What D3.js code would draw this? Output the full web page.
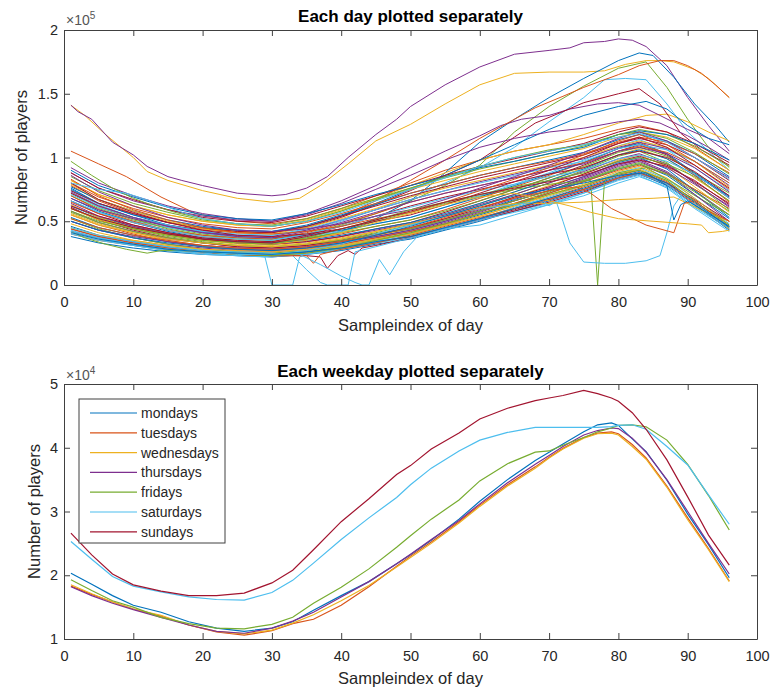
<!DOCTYPE html>
<html>
<head>
<meta charset="utf-8">
<script src="https://cdn.jsdelivr.net/npm/d3@7"></script>
<style>
  body { margin: 0; background: #fff; }
  text { font-family: "Liberation Sans", Arial, Helvetica, sans-serif; fill: #262626; }
</style>
</head>
<body>
<svg id="fig" width="772" height="690"></svg>
<script>
// ---- data (players in units of 1e5 for the day plot, 1e4 for the weekday plot) ----
const sampleTicks = [0, 10, 20, 30, 40, 50, 60, 70, 80, 90, 100];
const dayTicks = [0, 0.5, 1, 1.5, 2];
const weekTicks = [1, 2, 3, 4, 5];

// sample indices at which the ordinary days were read
const dayGrid = [1, 5, 10, 15, 20, 25, 30, 35, 40, 45, 50, 55, 60, 65, 70, 75, 80, 83, 87, 91, 96];

// ordinary days (x1e5), one row per day
const bandDays = [
  [.38,.33,.29,.26,.24,.23,.22,.24,.27,.32,.36,.43,.50,.58,.66,.74,.83,.87,.78,.63,.43],
  [.40,.35,.31,.27,.25,.24,.23,.25,.28,.33,.38,.44,.52,.60,.68,.77,.86,.90,.81,.66,.46],
  [.42,.36,.31,.27,.24,.23,.22,.24,.28,.33,.37,.44,.52,.61,.69,.78,.88,.92,.83,.68,.48],
  [.44,.38,.33,.29,.26,.25,.24,.26,.29,.34,.38,.45,.52,.59,.67,.75,.84,.88,.80,.67,.50],
  [.46,.39,.34,.30,.27,.25,.24,.26,.30,.35,.40,.47,.55,.63,.72,.81,.91,.95,.86,.71,.52],
  [.48,.41,.35,.31,.28,.26,.25,.27,.30,.35,.40,.47,.54,.62,.71,.79,.89,.93,.84,.68,.47],
  [.50,.43,.37,.32,.29,.27,.26,.28,.32,.37,.42,.49,.57,.66,.74,.84,.94,.98,.89,.74,.55],
  [.52,.44,.37,.32,.28,.26,.25,.27,.31,.36,.41,.48,.56,.64,.73,.82,.92,.96,.88,.75,.58],
  [.53,.45,.39,.34,.30,.28,.27,.29,.33,.38,.43,.50,.58,.67,.76,.85,.96,1.00,.91,.74,.53],
  [.55,.47,.40,.34,.30,.28,.27,.29,.32,.37,.42,.48,.56,.64,.72,.81,.90,.94,.87,.75,.60],
  [.56,.48,.41,.35,.31,.29,.28,.30,.34,.39,.44,.52,.60,.69,.78,.87,.98,1.02,.93,.77,.57],
  [.58,.49,.42,.36,.33,.30,.29,.31,.35,.40,.44,.51,.59,.68,.76,.85,.95,.99,.92,.79,.62],
  [.60,.51,.44,.38,.34,.31,.30,.32,.36,.41,.47,.54,.62,.71,.80,.90,1.01,1.05,.96,.80,.59],
  [.61,.51,.43,.37,.33,.30,.29,.31,.35,.40,.45,.52,.60,.69,.77,.87,.97,1.01,.94,.81,.64],
  [.63,.53,.45,.39,.35,.32,.31,.33,.37,.42,.48,.55,.64,.73,.82,.92,1.02,1.07,.99,.84,.66],
  [.64,.54,.46,.40,.36,.33,.32,.34,.38,.43,.48,.55,.63,.71,.80,.89,.99,1.03,.95,.80,.61],
  [.66,.56,.47,.41,.36,.33,.32,.34,.38,.44,.49,.57,.66,.75,.84,.94,1.05,1.10,1.02,.87,.68],
  [.68,.58,.49,.42,.37,.34,.33,.35,.39,.44,.49,.56,.64,.73,.82,.91,1.02,1.06,.99,.86,.70],
  [.70,.59,.50,.43,.38,.35,.34,.36,.40,.46,.51,.59,.68,.77,.86,.96,1.07,1.12,1.03,.86,.65],
  [.72,.61,.52,.44,.39,.36,.35,.37,.41,.46,.51,.58,.66,.75,.84,.93,1.04,1.08,1.01,.88,.72],
  [.74,.63,.53,.46,.41,.37,.36,.38,.42,.48,.53,.61,.70,.79,.88,.98,1.09,1.14,1.06,.92,.74],
  [.76,.64,.55,.47,.42,.38,.37,.39,.43,.48,.53,.61,.69,.78,.87,.96,1.07,1.11,1.03,.88,.69],
  [.45,.39,.35,.31,.28,.27,.26,.28,.31,.36,.40,.47,.54,.62,.70,.78,.87,.91,.82,.65,.44],
  [.50,.43,.38,.34,.31,.29,.28,.30,.34,.38,.43,.50,.58,.66,.74,.83,.93,.97,.88,.71,.50],
  [.57,.49,.42,.37,.33,.31,.30,.32,.35,.40,.44,.51,.58,.66,.74,.82,.91,.95,.87,.73,.55],
  [.62,.54,.47,.41,.37,.35,.34,.39,.46,.54,.62,.69,.75,.81,.87,.92,1.02,1.05,1.00,.89,.70],
  [.65,.56,.49,.43,.39,.37,.36,.41,.48,.56,.65,.72,.78,.84,.90,.96,1.05,1.09,1.04,.94,.75],
  [.68,.59,.52,.46,.41,.39,.38,.43,.51,.59,.67,.74,.81,.87,.93,.99,1.08,1.12,1.07,.97,.78],
  [.71,.61,.53,.47,.42,.40,.39,.44,.51,.59,.67,.74,.80,.86,.92,.97,1.07,1.10,1.06,.97,.80],
  [.74,.64,.56,.49,.44,.42,.41,.46,.54,.62,.70,.77,.84,.90,.96,1.02,1.11,1.15,1.10,1.00,.82],
  [.77,.67,.58,.51,.46,.43,.42,.47,.55,.63,.72,.79,.86,.92,.98,1.04,1.14,1.18,1.13,1.03,.85],
  [.80,.69,.60,.53,.48,.45,.44,.49,.56,.64,.72,.79,.86,.92,.97,1.03,1.12,1.16,1.12,1.03,.88],
  [.82,.71,.62,.55,.50,.47,.46,.51,.59,.67,.75,.82,.89,.95,1.01,1.07,1.16,1.20,1.16,1.07,.90],
  [.85,.74,.64,.57,.51,.48,.47,.52,.60,.68,.76,.84,.91,.97,1.03,1.09,1.18,1.22,1.18,1.09,.93],
  [.88,.76,.67,.59,.53,.50,.49,.54,.62,.70,.78,.86,.93,.99,1.05,1.11,1.20,1.24,1.20,1.11,.96],
  [.90,.78,.69,.61,.55,.52,.51,.56,.63,.71,.78,.85,.92,.97,1.03,1.08,1.18,1.21,1.18,1.11,.98],
  [.79,.67,.58,.50,.44,.41,.40,.45,.52,.60,.69,.76,.82,.88,.94,1.00,1.09,1.13,1.08,.97,.77],
  [.73,.62,.53,.46,.41,.38,.37,.42,.49,.57,.65,.72,.78,.84,.90,.95,1.05,1.08,1.03,.92,.73],
  [.66,.57,.49,.43,.38,.36,.35,.40,.46,.54,.61,.68,.74,.79,.85,.90,.99,1.02,.97,.87,.68],
  [.80,.67,.57,.49,.43,.39,.38,.40,.44,.50,.55,.63,.72,.81,.90,1.00,1.11,1.16,1.08,.94,.76],
  [.83,.70,.59,.51,.45,.41,.40,.42,.46,.52,.57,.65,.74,.83,.92,1.02,1.13,1.18,1.10,.97,.80],
  [.86,.73,.62,.53,.47,.43,.42,.44,.48,.54,.59,.67,.76,.85,.94,1.04,1.15,1.20,1.13,1.00,.84],
  [.58,.50,.44,.39,.35,.33,.32,.37,.44,.51,.59,.65,.71,.77,.82,.88,.97,1.00,.95,.85,.66],
  [.60,.52,.45,.40,.36,.34,.33,.38,.44,.51,.58,.65,.71,.76,.81,.86,.95,.98,.93,.82,.63],
  [.41,.36,.32,.28,.26,.25,.24,.26,.29,.34,.38,.45,.52,.60,.68,.76,.85,.89,.80,.65,.45]
];

// unusual days: day number in the series and [sample, players x1e5] readings
const oddDays = [
  { day: 4, pts: [[1,1.41],[2,1.36],[4,1.30],[7,1.12],[10,1.02],[12,0.93],[15,0.85],[17,0.82],[20,0.78],[25,0.72],[30,0.70],[32,0.71],[35,0.76],[38,0.85],[41,1.0],[45,1.18],[48,1.3],[50,1.4],[55,1.57],[60,1.71],[65,1.81],[70,1.84],[73,1.86],[75,1.9],[78,1.91],[80,1.93],[82,1.92],[84,1.87],[87,1.72],[90,1.47],[93,1.25],[96,1.05]] },
  { day: 3, pts: [[1,1.41],[3,1.33],[6,1.18],[10,1.0],[12,0.89],[15,0.82],[20,0.74],[25,0.68],[30,0.65],[34,0.68],[37,0.78],[41,0.95],[45,1.13],[50,1.26],[55,1.42],[60,1.57],[65,1.66],[70,1.67],[75,1.67],[78,1.68],[81,1.73],[84,1.76],[86,1.76],[88,1.75],[91,1.69],[93,1.62],[96,1.47]] },
  { day: 22, pts: [[1,0.62],[5,0.53],[10,0.46],[15,0.40],[20,0.36],[25,0.34],[30,0.33],[35,0.36],[40,0.42],[45,0.52],[50,0.66],[55,0.88],[60,1.12],[65,1.3],[70,1.47],[75,1.62],[80,1.76],[83,1.82],[85,1.80],[88,1.63],[91,1.42],[94,1.25],[96,1.12]] },
  { day: 5, pts: [[1,0.70],[5,0.60],[10,0.51],[15,0.45],[20,0.40],[25,0.37],[30,0.36],[35,0.40],[40,0.47],[45,0.56],[50,0.66],[55,0.78],[60,0.94],[65,1.2],[70,1.4],[75,1.56],[80,1.70],[84,1.75],[87,1.55],[90,1.3],[93,1.08],[96,0.92]] },
  { day: 27, pts: [[1,0.66],[5,0.57],[10,0.5],[15,0.45],[20,0.41],[25,0.39],[30,0.39],[35,0.43],[40,0.5],[45,0.59],[50,0.69],[55,0.8],[60,0.92],[65,1.08],[70,1.28],[75,1.47],[78,1.61],[81,1.62],[84,1.61],[87,1.42],[90,1.2],[93,1.05],[96,0.9]] },
  { day: 35, pts: [[1,0.72],[5,0.62],[10,0.53],[15,0.47],[20,0.43],[25,0.41],[30,0.41],[35,0.45],[40,0.53],[45,0.63],[50,0.74],[55,0.86],[60,0.98],[65,1.16],[68,1.27],[72,1.36],[75,1.43],[80,1.5],[83,1.54],[86,1.42],[89,1.19],[92,1.06],[96,0.94]] },
  { day: 37, pts: [[1,0.78],[5,0.66],[10,0.56],[15,0.49],[20,0.45],[25,0.42],[30,0.41],[35,0.46],[40,0.54],[45,0.66],[50,0.82],[55,0.98],[60,1.15],[65,1.3],[68,1.39],[72,1.48],[75,1.55],[80,1.65],[83,1.72],[86,1.76],[88,1.76],[90,1.72],[92,1.66],[94,1.57],[96,1.47]] },
  { day: 9, pts: [[1,1.05],[5,0.95],[9,0.85],[14,0.69],[19,0.56],[25,0.5],[30,0.48],[35,0.52],[40,0.6],[45,0.7],[50,0.8],[55,0.9],[60,0.98],[65,1.05],[70,1.1],[75,1.15],[80,1.22],[83,1.25],[87,1.2],[91,1.08],[96,0.9]] },
  { day: 43, pts: [[1,0.75],[5,0.64],[10,0.55],[15,0.49],[20,0.45],[25,0.43],[30,0.42],[35,0.46],[40,0.54],[45,0.64],[50,0.75],[55,0.86],[60,0.98],[65,1.1],[70,1.22],[75,1.33],[80,1.4],[84,1.44],[87,1.38],[90,1.25],[93,1.15],[96,1.1]] },
  { day: 32, pts: [[1,0.92],[5,0.8],[10,0.7],[15,0.62],[20,0.56],[25,0.52],[30,0.5],[35,0.56],[40,0.66],[45,0.78],[50,0.92],[55,1.05],[60,1.17],[63,1.25],[66,1.3],[70,1.33],[73,1.38],[77,1.42],[80,1.43],[83,1.41],[86,1.33],[90,1.22],[93,1.15],[96,1.03]] },
  { day: 31, pts: [[1,0.82],[5,0.71],[10,0.62],[15,0.55],[20,0.5],[25,0.47],[30,0.46],[35,0.5],[40,0.58],[45,0.68],[50,0.78],[55,0.88],[60,0.98],[65,1.05],[70,1.1],[75,1.18],[80,1.27],[84,1.33],[87,1.34],[90,1.28],[93,1.2],[96,1.13]] },
  { day: 45, pts: [[1,0.55],[5,0.47],[10,0.41],[15,0.36],[20,0.33],[25,0.31],[30,0.3],[35,0.32],[40,0.36],[45,0.42],[50,0.48],[55,0.54],[60,0.6],[65,0.64],[70,0.64],[75,0.65],[80,0.67],[85,0.68],[88,0.69],[90,0.64],[93,0.56],[96,0.5]] },
  { day: 66, pts: [[1,0.6],[5,0.51],[10,0.44],[15,0.39],[20,0.35],[25,0.33],[30,0.32],[35,0.35],[40,0.41],[45,0.49],[50,0.56],[55,0.63],[60,0.69],[65,0.72],[70,0.66],[73,0.62],[76,0.57],[80,0.52],[85,0.5],[90,0.48],[92,0.47],[93,0.41],[95,0.42],[96,0.43]] },
  { day: 58, pts: [[1,0.52],[5,0.45],[10,0.39],[15,0.35],[20,0.31],[25,0.29],[30,0.28],[35,0.3],[40,0.34],[45,0.39],[50,0.45],[55,0.53],[60,0.61],[65,0.68],[70,0.74],[74,0.77],[76,0.72],[79,0.6],[84,0.47],[88,0.41],[89.5,0.64],[91,0.66],[93,0.58],[96,0.5]] },
  { day: 64, pts: [[1,0.5],[5,0.43],[10,0.37],[15,0.33],[20,0.3],[25,0.28],[30,0.27],[35,0.29],[40,0.33],[45,0.39],[50,0.46],[55,0.54],[60,0.62],[65,0.7],[70,0.75],[75,0.8],[80,0.86],[84,0.88],[87,0.78],[88,0.51],[89,0.63],[90,0.66],[93,0.56],[96,0.46]] },
  { day: 55, pts: [[1,0.42],[5,0.37],[10,0.32],[15,0.28],[20,0.26],[25,0.24],[30,0.24],[35,0.27],[40,0.32],[45,0.4],[50,0.47],[55,0.54],[60,0.6],[65,0.63],[69,0.66],[70,0.62],[71,0.66],[72,0.5],[73,0.33],[75,0.18],[78,0.17],[81,0.17],[84,0.19],[86,0.23],[87,0.41],[88,0.62],[89,0.7],[92,0.6],[96,0.46]] },
  { day: 26, pts: [[1,0.6],[5,0.52],[10,0.45],[15,0.4],[20,0.36],[25,0.34],[30,0.33],[35,0.36],[40,0.42],[45,0.5],[50,0.57],[55,0.64],[60,0.7],[65,0.75],[70,0.79],[76,0.82],[77,0.0],[78,0.82],[80,0.88],[84,0.92],[88,0.8],[92,0.67],[96,0.55]] },
  { day: 13, pts: [[1,0.4],[5,0.35],[10,0.31],[15,0.27],[20,0.25],[25,0.23],[29,0.22],[30,0],[33,0],[34,0.22],[35,0.24],[40,0.29],[45,0.34],[50,0.39],[55,0.45],[60,0.52],[65,0.58],[70,0.64],[75,0.72],[80,0.82],[83,0.86],[87,0.76],[91,0.6],[96,0.42]] },
  { day: 20, pts: [[1,0.43],[5,0.37],[10,0.32],[15,0.29],[20,0.26],[25,0.25],[30,0.24],[33,0.23],[35,0.12],[37,0.02],[38,0],[41,0],[42,0.26],[45,0.3],[50,0.37],[55,0.44],[60,0.51],[65,0.57],[70,0.63],[75,0.7],[80,0.8],[83,0.85],[87,0.77],[91,0.61],[96,0.44]] },
  { day: 41, pts: [[1,0.45],[5,0.39],[10,0.34],[15,0.3],[20,0.27],[25,0.26],[30,0.25],[34,0.24],[37,0.16],[40,0.07],[42,0.02],[43,0],[44,0],[45.5,0.2],[47,0.08],[49,0.26],[51,0.38],[55,0.44],[60,0.47],[65,0.55],[70,0.63],[75,0.72],[80,0.83],[83,0.87],[87,0.79],[91,0.62],[96,0.45]] },
  { day: 23, pts: [[1,0.44],[5,0.38],[10,0.33],[15,0.29],[20,0.26],[25,0.24],[30,0.23],[35,0.23],[36,0.17],[37,0.24],[40,0.28],[45,0.33],[50,0.39],[55,0.46],[60,0.53],[65,0.6],[70,0.67],[75,0.75],[80,0.84],[83,0.88],[87,0.8],[91,0.64],[96,0.46]] },
  { day: 14, pts: [[1,0.42],[5,0.37],[10,0.32],[15,0.28],[20,0.26],[25,0.24],[30,0.23],[35,0.23],[37,0.22],[38,0.13],[39.5,0.23],[41,0.27],[42,0.24],[43,0.29],[45,0.31],[50,0.37],[55,0.44],[60,0.51],[65,0.58],[70,0.65],[75,0.73],[80,0.83],[83,0.87],[87,0.79],[91,0.63],[96,0.44]] },
  { day: 47, pts: [[1,0.42],[3,0.37],[6,0.32],[9,0.28],[12,0.25],[14,0.27],[17,0.27],[20,0.26],[25,0.24],[30,0.23],[35,0.25],[40,0.29],[45,0.35],[50,0.41],[55,0.48],[60,0.56],[65,0.63],[70,0.71],[75,0.78],[80,0.87],[83,0.9],[87,0.82],[91,0.66],[96,0.47]] },
  { day: 61, pts: [[1,0.97],[4,0.86],[7,0.76],[10,0.68],[13,0.62],[16,0.57],[20,0.52],[25,0.48],[30,0.46],[35,0.5],[40,0.58],[45,0.67],[50,0.76],[55,0.85],[60,0.93],[65,1.0],[70,1.06],[75,1.1],[80,1.18],[83,1.2],[87,1.15],[91,1.04],[96,0.87]] },
  { day: 69, pts: [[1,0.8],[5,0.75],[9,0.72],[13,0.65],[17,0.57],[20,0.52],[25,0.48],[30,0.46],[35,0.5],[40,0.57],[45,0.66],[50,0.75],[55,0.84],[60,0.93],[65,1.0],[70,1.05],[75,1.1],[80,1.16],[83,1.19],[87,1.12],[91,1.0],[96,0.83]] },
  { day: 53, pts: [[1,0.88],[5,0.76],[10,0.66],[15,0.59],[20,0.54],[25,0.51],[30,0.5],[35,0.55],[40,0.64],[45,0.75],[50,0.86],[55,0.98],[60,1.08],[65,1.15],[70,1.2],[75,1.23],[80,1.28],[83,1.3],[86,1.27],[90,1.17],[93,1.08],[96,0.98]] }
];

// weekday averages (x1e4)
const weekGrid = [1,4,7,10,14,18,22,26,30,33,36,40,44,48,50,53,57,60,64,68,70,72,75,77,79,80,82,84,87,90,93,96];
const weekdayNames = ["mondays", "tuesdays", "wednesdays", "thursdays", "fridays", "saturdays", "sundays"];
const mondays    = [2.03,1.86,1.68,1.53,1.42,1.27,1.17,1.12,1.17,1.27,1.45,1.68,1.90,2.18,2.32,2.55,2.88,3.16,3.50,3.80,3.93,4.06,4.25,4.36,4.39,4.35,4.14,3.94,3.49,2.96,2.48,1.96];
const tuesdays   = [1.83,1.70,1.58,1.47,1.36,1.22,1.11,1.06,1.13,1.24,1.31,1.53,1.82,2.14,2.30,2.52,2.84,3.10,3.42,3.70,3.85,3.99,4.16,4.23,4.25,4.22,4.05,3.84,3.40,2.90,2.42,1.91];
const wednesdays = [1.85,1.71,1.58,1.47,1.37,1.22,1.12,1.08,1.14,1.25,1.38,1.60,1.84,2.13,2.28,2.50,2.82,3.08,3.40,3.68,3.84,3.98,4.15,4.22,4.23,4.20,4.02,3.82,3.38,2.87,2.40,1.90];
const thursdays  = [1.82,1.68,1.56,1.46,1.34,1.22,1.12,1.09,1.17,1.28,1.42,1.66,1.90,2.18,2.33,2.56,2.86,3.12,3.45,3.74,3.88,4.02,4.20,4.27,4.31,4.30,4.15,3.93,3.50,3.00,2.50,2.02];
const fridays    = [1.93,1.76,1.60,1.50,1.34,1.24,1.17,1.16,1.23,1.34,1.56,1.81,2.10,2.44,2.62,2.88,3.18,3.48,3.75,3.93,3.95,4.04,4.16,4.25,4.31,4.35,4.36,4.33,4.12,3.74,3.25,2.71];
const saturdays  = [2.53,2.25,1.98,1.83,1.74,1.66,1.62,1.61,1.73,1.92,2.19,2.56,2.90,3.22,3.42,3.68,3.95,4.12,4.24,4.32,4.32,4.32,4.32,4.32,4.33,4.35,4.36,4.29,4.02,3.73,3.26,2.80];
const sundays    = [2.66,2.32,2.02,1.85,1.75,1.68,1.68,1.72,1.88,2.08,2.40,2.84,3.20,3.58,3.72,3.98,4.23,4.45,4.62,4.74,4.78,4.82,4.90,4.85,4.78,4.73,4.55,4.29,3.81,3.23,2.63,2.16];
const weekdayValues = [mondays, tuesdays, wednesdays, thursdays, fridays, saturdays, sundays];

// ---- figure ----
const colorOrder = ["#0072BD", "#D95319", "#EDB120", "#7E2F8E", "#77AC30", "#4DBEEE", "#A2142F"];
const svg = d3.select("#fig");
const left = 64, right = 757;

const x = d3.scaleLinear().domain([0, 100]).range([left, right]);
const yDay = d3.scaleLinear().domain([0, 2]).range([285, 30]);
const yWeek = d3.scaleLinear().domain([1, 5]).range([639, 384]);

// put every day in its slot so the colour cycle matches the day number
const nDays = bandDays.length + oddDays.length;
const oddByDay = new Map(oddDays.map(d => [d.day, d.pts]));
const days = [];
let b = 0;
for (let d = 1; d <= nDays; d++) {
  if (oddByDay.has(d)) {
    days.push(oddByDay.get(d));
  } else {
    days.push(dayGrid.map((s, i) => [s, bandDays[b][i]]));
    b++;
  }
}

function drawPanel(y, yTicks, id) {
  const [y0, y1] = y.range();
  const g = svg.append("g");
  g.append("clipPath").attr("id", id)
    .append("rect").attr("x", left).attr("y", y1).attr("width", right - left).attr("height", y0 - y1);
  const plot = g.append("g").attr("clip-path", `url(#${id})`);

  const axes = g.append("g").style("color", "#404040");
  const fmt = d => String(d);
  axes.append("g").attr("transform", `translate(0,${y0})`)
    .call(d3.axisBottom(x).tickValues(sampleTicks).tickFormat(fmt).tickSize(-6).tickSizeOuter(0).tickPadding(12));
  axes.append("g").attr("transform", `translate(0,${y1})`)
    .call(d3.axisTop(x).tickValues(sampleTicks).tickFormat("").tickSize(-6).tickSizeOuter(0));
  axes.append("g").attr("transform", `translate(${left},0)`)
    .call(d3.axisLeft(y).tickValues(yTicks).tickFormat(fmt).tickSize(-6).tickSizeOuter(0).tickPadding(6));
  axes.append("g").attr("transform", `translate(${right},0)`)
    .call(d3.axisRight(y).tickValues(yTicks).tickFormat("").tickSize(-6).tickSizeOuter(0));
  axes.selectAll("text").style("font-size", "14.5px").attr("fill", "#262626");
  return plot;
}

// top panel: each day
const dayLine = d3.line().x(d => x(d[0])).y(d => yDay(d[1]));
const dayPlot = drawPanel(yDay, dayTicks, "clipDay");
dayPlot.selectAll("path.day").data(days).join("path")
  .attr("class", "day")
  .attr("d", dayLine)
  .attr("fill", "none")
  .attr("stroke", (d, i) => colorOrder[i % 7])
  .attr("stroke-width", 1);

// bottom panel: weekday averages
const weekLine = d3.line().x((v, i) => x(weekGrid[i])).y(v => yWeek(v));
const weekPlot = drawPanel(yWeek, weekTicks, "clipWeek");
weekPlot.selectAll("path.week").data(weekdayValues).join("path")
  .attr("class", "week")
  .attr("d", weekLine)
  .attr("fill", "none")
  .attr("stroke", (d, i) => colorOrder[i])
  .attr("stroke-width", 1.2);

// titles, labels and exponent notes
function labels(title, titleY, xLabelY, yLabelX, yCenter, expo, expoY) {
  svg.append("text").attr("x", (left + right) / 2).attr("y", titleY)
    .attr("text-anchor", "middle").style("font-size", "17px").style("font-weight", "bold")
    .style("fill", "#000").text(title);
  svg.append("text").attr("x", (left + right) / 2).attr("y", xLabelY)
    .attr("text-anchor", "middle").style("font-size", "16.5px").text("Sampleindex of day");
  svg.append("text").attr("transform", `translate(${yLabelX},${yCenter}) rotate(-90)`)
    .attr("text-anchor", "middle").style("font-size", "16.5px").text("Number of players");
  const t = svg.append("text").attr("x", 66).attr("y", expoY).style("font-size", "14px").style("fill", "#555");
  t.append("tspan").text("\u00d710");
  t.append("tspan").attr("dy", -6).style("font-size", "10px").text(expo);
}
labels("Each day plotted separately", 22, 331, 27, 157.5, "5", 25);
labels("Each weekday plotted separately", 377, 684, 40, 511.5, "4", 380);

// legend
const legend = svg.append("g");
legend.append("rect").attr("x", 79).attr("y", 399).attr("width", 146).attr("height", 144)
  .attr("fill", "#fff").attr("stroke", "#404040").attr("stroke-width", 1);
const rows = legend.selectAll("g.row").data(weekdayNames).join("g")
  .attr("class", "row")
  .attr("transform", (d, i) => `translate(0,${413 + i * 19.8})`);
rows.append("line").attr("x1", 90).attr("x2", 137)
  .attr("stroke", (d, i) => colorOrder[i]).attr("stroke-width", 1.2);
rows.append("text").attr("x", 141).attr("dy", "0.35em").style("font-size", "14px").text(d => d);
</script>
</body>
</html>
